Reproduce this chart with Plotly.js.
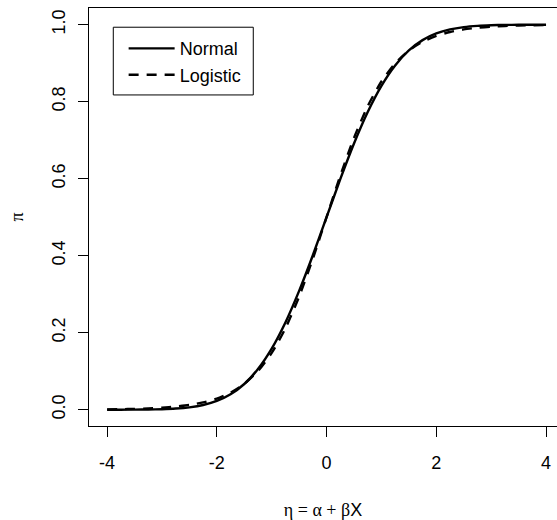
<!DOCTYPE html>
<html>
<head>
<meta charset="utf-8">
<script src="https://cdn.plot.ly/plotly-3.0.1.min.js"></script>
<style>html,body{margin:0;padding:0;background:#fff;}</style>
</head>
<body>
<div id="chart" style="width:557px;height:520px;"></div>
<script>
// eta values (x)
var eta = [-4, -3.75, -3.5, -3.25, -3, -2.75, -2.5, -2.25, -2, -1.75, -1.5, -1.25, -1, -0.75, -0.5, -0.25,
           0, 0.25, 0.5, 0.75, 1, 1.25, 1.5, 1.75, 2, 2.25, 2.5, 2.75, 3, 3.25, 3.5, 3.75, 4];
// Normal CDF curve
var normalPi = [0.00003, 0.00009, 0.00023, 0.00058, 0.00135, 0.00298, 0.00621, 0.01222, 0.02275, 0.04006,
                0.06681, 0.10565, 0.15866, 0.22663, 0.30854, 0.40129, 0.5, 0.59871, 0.69146, 0.77337,
                0.84134, 0.89435, 0.93319, 0.95994, 0.97725, 0.98778, 0.99379, 0.99702, 0.99865,
                0.99942, 0.99977, 0.99991, 0.99997];
// Logistic CDF curve
var logisticPi = [0.00089, 0.00139, 0.00215, 0.00333, 0.00516, 0.00796, 0.0123, 0.01894, 0.02906, 0.04438,
                  0.0671, 0.1004, 0.1475, 0.2115, 0.2938, 0.3921, 0.5, 0.6079, 0.7062, 0.7885,
                  0.8525, 0.8996, 0.9329, 0.95562, 0.97094, 0.98106, 0.9877, 0.99204, 0.99484,
                  0.99667, 0.99785, 0.99861, 0.99911];
var seriesNames = ["Normal", "Logistic"];
var xTicks = [-4, -2, 0, 2, 4];
var yTicks = [0, 0.2, 0.4, 0.6, 0.8, 1.0];

var sans = "Liberation Sans, Arial, sans-serif";
var serif = "Liberation Serif, Times New Roman, serif";

var traces = [
  {x: eta, y: normalPi, name: seriesNames[0], type: "scatter", mode: "lines",
   line: {color: "#000", width: 2.4, shape: "spline", smoothing: 0.6}},
  {x: eta, y: logisticPi, name: seriesNames[1], type: "scatter", mode: "lines",
   line: {color: "#000", width: 2.4, dash: "10px,8px", shape: "spline", smoothing: 0.6}}
];

var layout = {
  width: 557, height: 520,
  margin: {l: 89, r: 0, t: 8, b: 94, pad: 0},
  paper_bgcolor: "#fff", plot_bgcolor: "#fff",
  showlegend: true,
  legend: {x: 0.074, y: 0.947, xanchor: "left", yanchor: "top",
           bgcolor: "rgba(0,0,0,0)", borderwidth: 0,
           font: {family: sans, size: 18, color: "#000"}, itemwidth: 46},
  xaxis: {range: [-4.33, 4.2], tickvals: xTicks, ticktext: xTicks.map(String),
          ticks: "outside", ticklen: 10, tickwidth: 1, tickcolor: "#000",
          showline: true, mirror: true, linecolor: "#000", linewidth: 1,
          showgrid: false, zeroline: false, ticklabelstandoff: 10,
          tickfont: {family: sans, size: 18, color: "#000"},
          title: {text: '<span style="font-family:Liberation Serif">η = α + β</span>X',
                  font: {family: sans, size: 18, color: "#000"}, standoff: 32}},
  yaxis: {range: [-0.0423, 1.0434], tickvals: yTicks, ticktext: yTicks.map(function(v){return v.toFixed(1);}),
          ticks: "outside", ticklen: 10, tickwidth: 1, tickcolor: "#000",
          showline: true, mirror: false, linecolor: "#000", linewidth: 1,
          showgrid: false, zeroline: false, tickangle: -90, ticklabelstandoff: 6,
          tickfont: {family: sans, size: 18, color: "#000"},
          title: {text: "π", font: {family: serif, size: 18, color: "#000"}, standoff: 20}},
  shapes: [
    {type: "rect", xref: "paper", yref: "paper", x0: 0.0519, x1: 0.351, y0: 0.792, y1: 0.954,
     line: {color: "#000", width: 1}, fillcolor: "rgba(0,0,0,0)"}
  ]
};

Plotly.newPlot("chart", traces, layout, {staticPlot: true, displayModeBar: false});
</script>
</body>
</html>
